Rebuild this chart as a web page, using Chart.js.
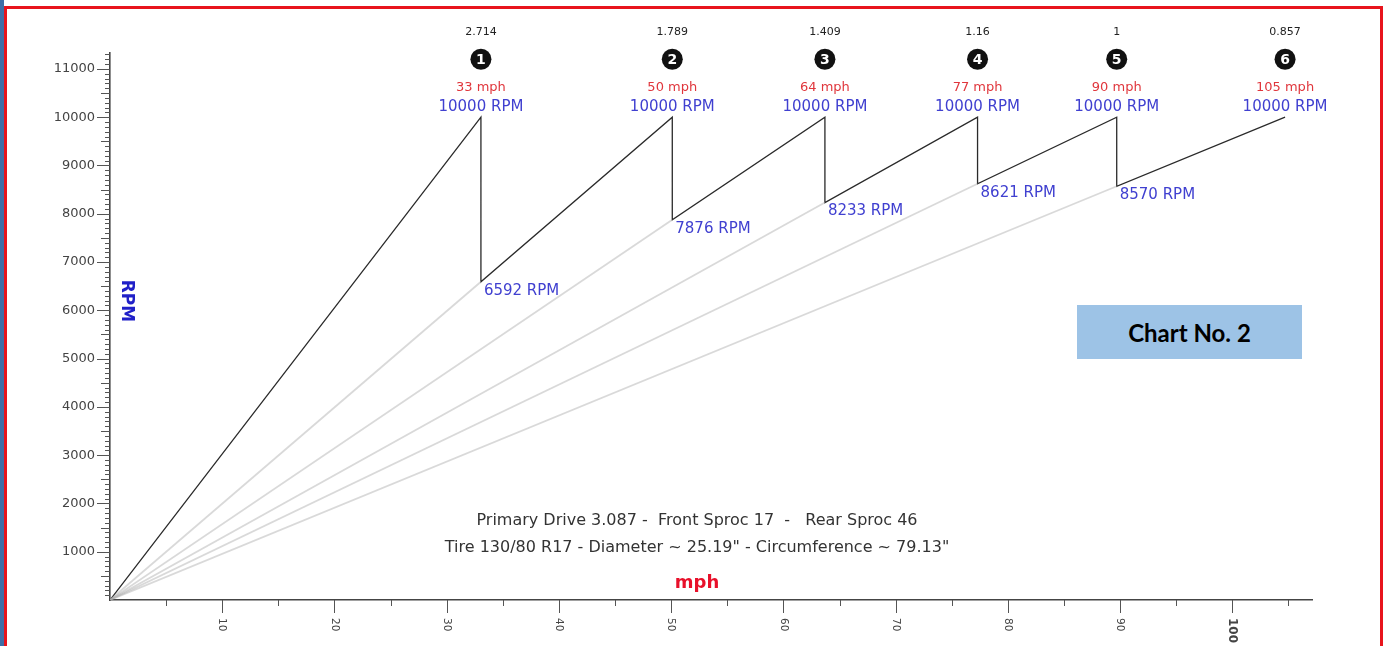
<!DOCTYPE html>
<html>
<head>
<meta charset="utf-8">
<script src="https://cdn.jsdelivr.net/npm/chart.js@4.4.0/dist/chart.umd.min.js"></script>
<style>
    html, body { margin: 0; padding: 0; background: #fff; }
    #wrap { position: relative; width: 1385px; height: 646px; overflow: hidden; background: #fff; }
    #chart { position: absolute; left: 0; top: 0; }
    #blue { position: absolute; left: 0; top: 0; width: 4px; height: 646px; background: #3f6ea6; }
    #frame {
        position: absolute; left: 4px; top: 6px; width: 1379px; height: 700px;
        border: 3px solid #e8141c; border-bottom: none; box-sizing: border-box; pointer-events: none;
    }
    #badge {
        position: absolute; left: 1077px; top: 305px; width: 225px; height: 54px;
        background: #9dc3e6; color: #000; font: bold 24px Lato, "Liberation Sans", sans-serif;
        display: flex; align-items: center; justify-content: center;
    }
</style>
</head>
<body>
<div id="wrap">
    <canvas id="chart" width="1385" height="646"></canvas>
    <div id="blue"></div>
    <div id="frame"></div>
    <div id="badge">Chart No. 2</div>
</div>
<script>
// gear data
const gearNumbers = ['1', '2', '3', '4', '5', '6'];
const gearRatios = ['2.714', '1.789', '1.409', '1.16', '1', '0.857'];
const shiftSpeeds = [33.05, 50.1, 63.7, 77.3, 89.7, 104.7];   // mph at redline
const speedLabels = ['33 mph', '50 mph', '64 mph', '77 mph', '90 mph', '105 mph'];
const shiftRpm = [10000, 10000, 10000, 10000, 10000, 10000];
const dropRpm = [6592, 7876, 8233, 8621, 8570];               // rpm after upshift
const xTickLabels = [10, 20, 30, 40, 50, 60, 70, 80, 90, 100];
const yTickLabels = [1000, 2000, 3000, 4000, 5000, 6000, 7000, 8000, 9000, 10000, 11000];
const footnotes = [
    'Primary Drive 3.087 -  Front Sproc 17  -   Rear Sproc 46',
    'Tire 130/80 R17 - Diameter ~ 25.19" - Circumference ~ 79.13"'
];

const FONT = '"DejaVu Sans", Verdana, sans-serif';

// sawtooth: climb to redline, drop into next gear
const sawtooth = [{ x: 0, y: 0 }];
shiftSpeeds.forEach((s, i) => {
    sawtooth.push({ x: s, y: shiftRpm[i] });
    if (i < dropRpm.length) sawtooth.push({ x: s, y: dropRpm[i] });
});

// faint lines from the origin for gears 2..6
const gearLines = dropRpm.map((r, i) => ({
    data: [{ x: 0, y: 0 }, { x: shiftSpeeds[i], y: r }],
    borderColor: 'rgba(170, 170, 170, 0.45)',
    borderWidth: 1.8,
    pointRadius: 0,
    showLine: true
}));

const decor = {
    id: 'decor',
    afterDraw(chart) {
        const { ctx, chartArea } = chart;
        const xs = chart.scales.x;
        const ys = chart.scales.y;
        ctx.save();

        // y ticks: 100 / 500 / 1000
        ctx.strokeStyle = '#555';
        ctx.lineWidth = 1;
        for (let v = 100; v <= ys.max; v += 100) {
            const y = Math.round(ys.getPixelForValue(v)) + 0.5;
            const len = v % 1000 === 0 ? 13 : (v % 500 === 0 ? 9 : 5);
            ctx.beginPath();
            ctx.moveTo(chartArea.left - len, y);
            ctx.lineTo(chartArea.left, y);
            ctx.stroke();
        }

        // y labels
        ctx.fillStyle = '#444';
        ctx.font = '13px ' + FONT;
        ctx.textAlign = 'right';
        ctx.textBaseline = 'middle';
        yTickLabels.forEach(v => {
            ctx.fillText(String(v), chartArea.left - 15, ys.getPixelForValue(v));
        });

        // x ticks every 5 mph
        for (let v = 5; v <= xs.max; v += 5) {
            const x = Math.round(xs.getPixelForValue(v)) + 0.5;
            const len = v % 10 === 0 ? 13 : 6;
            ctx.beginPath();
            ctx.moveTo(x, chartArea.bottom);
            ctx.lineTo(x, chartArea.bottom + len);
            ctx.stroke();
        }

        // x labels, rotated clockwise
        xTickLabels.forEach(v => {
            const x = xs.getPixelForValue(v);
            ctx.save();
            ctx.translate(x, chartArea.bottom + 18);
            ctx.rotate(Math.PI / 2);
            ctx.font = v === 100 ? 'bold 12px ' + FONT : '10.5px ' + FONT;
            ctx.textAlign = 'left';
            ctx.textBaseline = 'middle';
            ctx.fillText(String(v), 0, 0);
            ctx.restore();
        });

        // gear markers above each redline point
        ctx.textAlign = 'center';
        ctx.textBaseline = 'middle';
        shiftSpeeds.forEach((s, i) => {
            const x = xs.getPixelForValue(s);
            const y = ys.getPixelForValue(shiftRpm[i]);

            ctx.fillStyle = '#222';
            ctx.font = '11px ' + FONT;
            ctx.fillText(gearRatios[i], x, y - 85);

            ctx.beginPath();
            ctx.arc(x, y - 58, 10.5, 0, Math.PI * 2);
            ctx.fillStyle = '#111';
            ctx.fill();
            ctx.fillStyle = '#fff';
            ctx.font = 'bold 14px ' + FONT;
            ctx.fillText(gearNumbers[i], x, y - 57);

            ctx.fillStyle = '#e0363c';
            ctx.font = '13px ' + FONT;
            ctx.fillText(speedLabels[i], x, y - 30);

            ctx.fillStyle = '#4040d0';
            ctx.font = '15px ' + FONT;
            ctx.fillText(shiftRpm[i] + ' RPM', x, y - 10);
        });

        // rpm after each upshift
        ctx.textAlign = 'left';
        dropRpm.forEach((r, i) => {
            const x = xs.getPixelForValue(shiftSpeeds[i]);
            const y = ys.getPixelForValue(r);
            ctx.fillStyle = '#4040d0';
            ctx.font = '15px ' + FONT;
            ctx.fillText(r + ' RPM', x + 3, y + 9);
        });

        // setup notes
        const cx = (chartArea.left + chartArea.right) / 2 - 14;
        ctx.textAlign = 'center';
        ctx.fillStyle = '#333';
        ctx.font = '16px ' + FONT;
        ctx.fillText(footnotes[0], cx, 521);
        ctx.fillText(footnotes[1], cx, 548);

        // axis titles
        ctx.fillStyle = '#e8102a';
        ctx.font = 'bold 18px ' + FONT;
        ctx.fillText('mph', cx, 583);

        ctx.save();
        ctx.translate(chartArea.left + 16, 301);
        ctx.rotate(Math.PI / 2);
        ctx.fillStyle = '#2020c8';
        ctx.font = 'bold 17px ' + FONT;
        ctx.fillText('RPM', 0, 0);
        ctx.restore();

        ctx.restore();
    }
};

new Chart(document.getElementById('chart'), {
    type: 'scatter',
    data: {
        datasets: [
            ...gearLines,
            {
                data: sawtooth,
                borderColor: '#2a2a2a',
                borderWidth: 1.3,
                pointRadius: 0,
                showLine: true
            }
        ]
    },
    options: {
        responsive: false,
        animation: false,
        layout: { padding: { left: 0, right: 73, top: 53, bottom: 0 } },
        plugins: {
            legend: { display: false },
            tooltip: { enabled: false }
        },
        scales: {
            x: {
                type: 'linear',
                min: 0,
                max: 107.1,
                ticks: { display: false },
                grid: { display: false },
                border: { color: '#444', width: 1.6 },
                afterFit: s => { s.height = 46; }
            },
            y: {
                type: 'linear',
                min: 0,
                max: 11330,
                ticks: { display: false, stepSize: 1000 },
                grid: { display: false },
                border: { color: '#444', width: 1.6 },
                afterFit: s => { s.width = 110; }
            }
        }
    },
    plugins: [decor]
});
</script>
</body>
</html>
